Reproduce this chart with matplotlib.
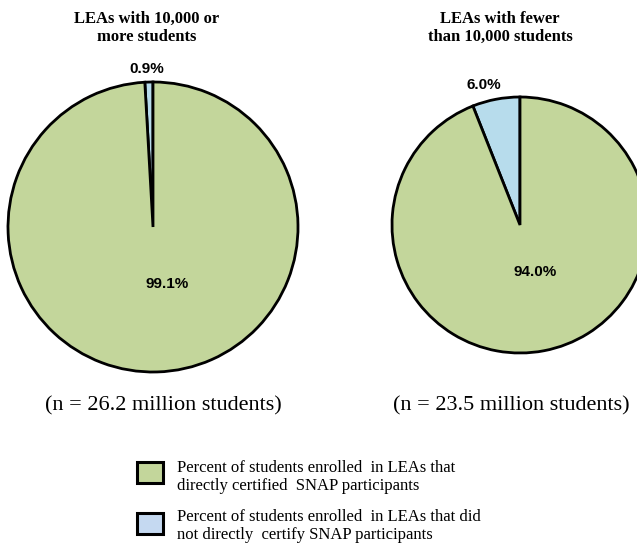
import matplotlib.pyplot as plt
from matplotlib.patches import Rectangle

# data
titles = ['LEAs with 10,000 or\nmore students', 'LEAs with fewer\nthan 10,000 students']
not_certified = [0.9, 6.0]
certified = [99.1, 94.0]
n_students = [26.2, 23.5]
legend_labels = ['Percent of students enrolled  in LEAs that\ndirectly certified  SNAP participants',
                 'Percent of students enrolled  in LEAs that did\nnot directly  certify SNAP participants']

green = '#c3d69b'
blue = '#b7dcec'
W, H = 637, 544

fig = plt.figure(figsize=(W / 100, H / 100), dpi=100)

# pie geometry in pixels: center x, center y (from top), radius
pies = [(153, 227, 145), (520, 225, 128)]
# label offsets in pie radius units (small slice, large slice)
small_pos = [(-0.04, 1.04), (-0.28, 1.04)]
big_pos = [(0.10, -0.39), (0.12, -0.37)]
pad = 1.03

for i, (cx, cy, r) in enumerate(pies):
    s = r * pad
    ax = fig.add_axes([(cx - s) / W, (H - cy - s) / H, 2 * s / W, 2 * s / H])
    ax.pie([not_certified[i], certified[i]], colors=[blue, green], startangle=90,
           counterclock=True, wedgeprops=dict(edgecolor='black', linewidth=2))
    ax.set_xlim(-pad, pad)
    ax.set_ylim(-pad, pad)
    ax.set_aspect('equal')
    ax.text(small_pos[i][0], small_pos[i][1], f'{not_certified[i]:.1f}%', ha='center', va='bottom',
            fontsize=11, fontweight='bold', family='Liberation Sans')
    ax.text(big_pos[i][0], big_pos[i][1], f'{certified[i]:.1f}%', ha='center', va='center',
            fontsize=11, fontweight='bold', family='Liberation Sans')

# titles and n labels
title_x = [147, 500]
n_x = [163, 511]
for i in range(2):
    fig.text(title_x[i] / W, 1 - 28 / H, titles[i], ha='center', va='center', fontsize=12,
             fontweight='bold', family='Liberation Serif', linespacing=1.2)
    fig.text(n_x[i] / W, 1 - 406 / H, f'(n = {n_students[i]} million students)', ha='center',
             va='center', fontsize=16, family='Liberation Serif')

# legend, drawn by hand
box_colors = [green, '#c5d9f1']
box_top = [462, 513]
text_mid = [477, 526]
for i in range(2):
    fig.add_artist(Rectangle((137 / W, 1 - (box_top[i] + 21) / H), 26 / W, 21 / H,
                             transform=fig.transFigure, facecolor=box_colors[i],
                             edgecolor='black', linewidth=2.2))
    fig.text(177 / W, 1 - text_mid[i] / H, legend_labels[i], ha='left', va='center',
             fontsize=12, family='Liberation Serif', linespacing=1.2)

fig.savefig('out.png', dpi=100)
